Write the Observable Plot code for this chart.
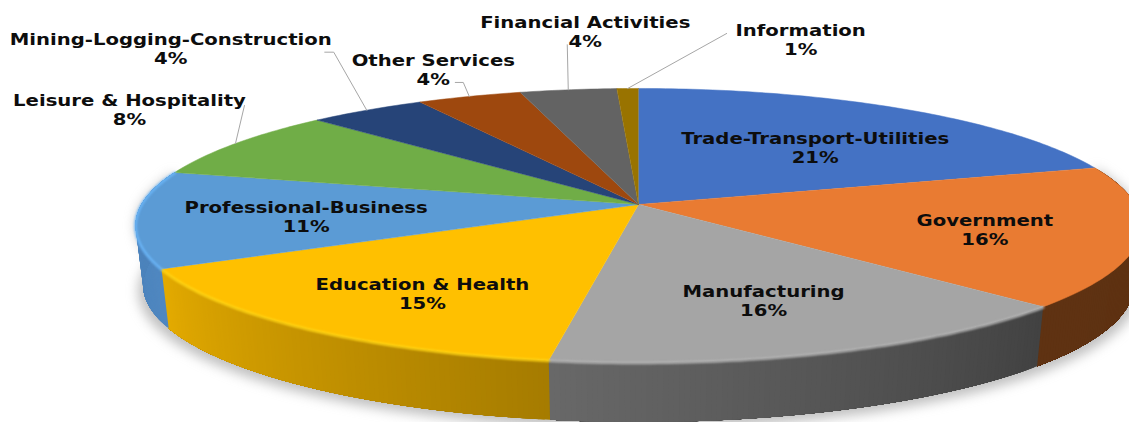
<!DOCTYPE html>
<html>
<head>
<meta charset="utf-8">
<script src="https://cdn.jsdelivr.net/npm/d3@7"></script>
<script src="https://cdn.jsdelivr.net/npm/@observablehq/plot@0.6"></script>
<style>html,body{margin:0;padding:0;background:#fff;overflow:hidden}</style>
</head>
<body>
<div id="chart"></div>
<script>
// Data
const categories = ["Trade-Transport-Utilities","Government","Manufacturing","Education & Health","Professional-Business","Leisure & Hospitality","Mining-Logging-Construction","Other Services","Financial Activities","Information"];
const percentLabels = ["21%","16%","16%","15%","11%","8%","4%","4%","4%","1%"];
// Slice sizes as drawn in the picture (they differ slightly from the rounded labels)
const drawnShares = [20.4,16.6,15.45,15.15,11.4,8.3,4.4,3.9,3.6,0.8];

// Styles
const topColors = ["#4472C4","#E97B32","#A5A5A5","#FFC000","#5B9BD5","#70AD47","#264478","#9E480E","#636363","#997300"];
const wallFrom = {1:"#5C3010",2:"#424242",3:"#A67C00",4:"#4F87C0"}; // at the clockwise start of the slice
const wallTo   = {1:"#5F3212",2:"#686868",3:"#E3AA00",4:"#4A80B8"};
const rimColors = {2:"#B4B4B4",3:"#FFD414",4:"#6BB6F8"};

// Layout
const W = 1129, H = 422;
const cx = 638, cy = 204, A = 497, B = 133.8, k = 0.153, depth = 59.5, shrink = 0.985;
const textStretch = 1.31;
const labelOffsets = [[-88,38],[-155,-7.5],[-64,-52],[118,-34],[170,-2.5],[-106,-34],[-196,-62],[-36,-27],[17,-58],[173,-49.5]];
const leaderBends = {5:[[9,-38]],6:[[-33,-58],[-42,-58]],7:[[-6,-14],[-14,-14]],8:[[-1,-45]],9:[[99,-55]]};

// Tilted-disc projection of a share position (0–100, clockwise from 12 o'clock)
function rim(share, level = 0) {
  const t = share / 100 * 2 * Math.PI, u = Math.sin(t), v = Math.cos(t), d = 1 + k * v;
  const s = level ? shrink : 1;
  return {x: cx + s * A * u / d, y: cy - B * v / d + level * depth};
}
const ends = d3.cumsum(drawnShares), starts = ends.map((e, i) => e - drawnShares[i]);
const mids = ends.map((e, i) => (e + starts[i]) / 2);
const sweep = (a, b, step = 0.25) => d3.range(Math.ceil((b - a) / step) + 1).map(i => a + (b - a) * i / Math.ceil((b - a) / step));

const faces = categories.flatMap((c, i) => [
  {x: cx, y: cy, id: c, color: topColors[i]},
  ...sweep(starts[i], ends[i]).map(p => ({...rim(p), id: c, color: topColors[i]}))
]);

// Wall shading: each band runs on to the end of its slice and the next band paints over it
const walls = Object.keys(wallFrom).map(Number).flatMap(i => {
  const grid = sweep(starts[i], ends[i], 0.15);
  const mix = d3.interpolateRgb(wallFrom[i], wallTo[i]);
  return grid.slice(0, -1).flatMap((a, j) => {
    const color = mix(j / (grid.length - 2 || 1));
    const span = sweep(a, ends[i], 0.5);
    return [...span.map(p => rim(p)), ...span.slice().reverse().map(p => rim(p, 1))].map(p => ({...p, id: `${i}-${j}`, color}));
  });
});

const rims = Object.keys(rimColors).map(Number).flatMap(i =>
  sweep(starts[i], ends[i]).map(p => {
    const q = rim(p);
    return {x: q.x, y: q.y + 0.5, id: i, color: rimColors[i]};
  }));

const lower = sweep(ends[0], ends[4], 0.5);
const shadow = [
  ...lower.map(p => {
    const q = rim(p, 1);
    return {x: q.x + (q.x < cx ? -5 : 5), y: q.y + 6};
  }),
  ...lower.slice().reverse().map(p => rim(p))
];

const leaders = Object.keys(leaderBends).map(Number).flatMap(i => {
  const o = rim(mids[i]);
  return [o, ...leaderBends[i].map(([dx, dy]) => ({x: o.x + dx, y: o.y + dy}))].map(p => ({...p, id: i}));
});

const labels = categories.map((c, i) => {
  const o = rim(mids[i]);
  return {x: o.x + labelOffsets[i][0], y: o.y + labelOffsets[i][1], text: `${c}\n${percentLabels[i]}`};
});

const chart = Plot.plot({
  width: W, height: H,
  margin: 0,
  x: {domain: [0, W], range: [0, W], axis: null},
  y: {domain: [0, H], range: [0, H], axis: null},
  marks: [
    Plot.line(shadow, {x: "x", y: "y", fill: "#8c8c8c", stroke: "none", fillOpacity: 0.55, imageFilter: "blur(6px)", curve: "linear"}),
    Plot.line(walls, {x: "x", y: "y", z: "id", fill: "color", stroke: "none", curve: "linear"}),
    Plot.line(faces, {x: "x", y: "y", z: "id", fill: "color", stroke: "color", strokeWidth: 0.5, curve: "linear"}),
    Plot.line(rims, {x: "x", y: "y", z: "id", stroke: "color", strokeWidth: 2.5, imageFilter: "blur(0.8px)", curve: "linear"}),
    Plot.line(leaders, {x: "x", y: "y", z: "id", stroke: "#A6A6A6", strokeWidth: 1, curve: "linear"}),
    Plot.text(labels, {x: "x", y: "y", text: "text", fontFamily: "DejaVu Sans", fontWeight: "bold", fontSize: 15, lineHeight: 1.27, fill: "#0d0d0d"})
  ]
});
// The reference's lettering is stretched sideways
d3.select(chart).selectAll("text").attr("transform", function() {
  return `${this.getAttribute("transform") || ""} scale(${textStretch},1)`;
});
document.getElementById("chart").appendChild(chart);
</script>
</body>
</html>
